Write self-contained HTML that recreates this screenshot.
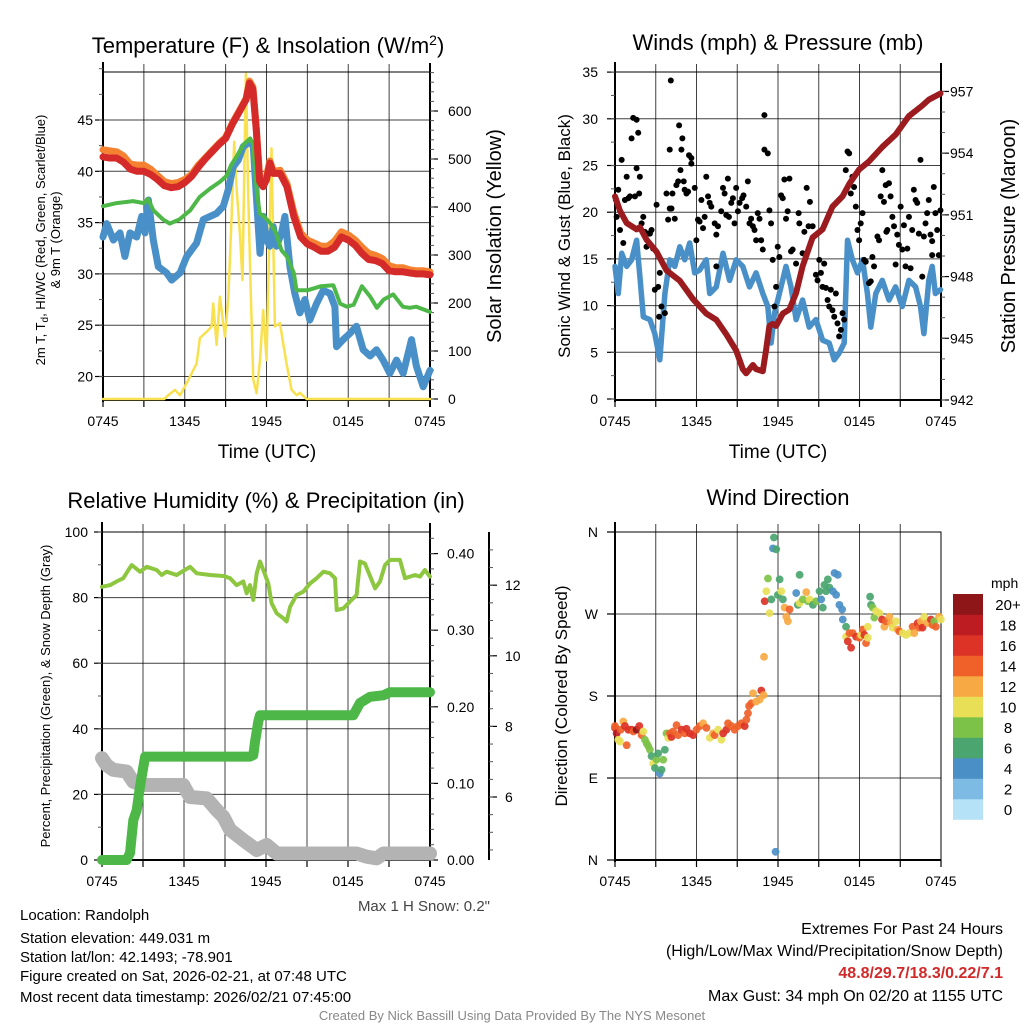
<!DOCTYPE html>
<html><head><meta charset="utf-8"><title>Mesonet Station Meteogram</title>
<style>
html,body{margin:0;padding:0;background:#fff;}
svg{display:block;font-family:"Liberation Sans",Arial,sans-serif;}
</style></head>
<body>
<svg id="c" width="1024" height="1024" viewBox="0 0 1024 1024" xmlns="http://www.w3.org/2000/svg">
<rect x="0" y="0" width="1024" height="1024" fill="#fff"/>
<text x="268" y="53" font-size="22" text-anchor="middle">Temperature (F) &amp; Insolation (W/m<tspan dy="-8" font-size="14">2</tspan><tspan dy="8">)</tspan></text>
<text x="778" y="50" font-size="22" text-anchor="middle">Winds (mph) &amp; Pressure (mb)</text>
<text x="266" y="508" font-size="22" text-anchor="middle">Relative Humidity (%) &amp; Precipitation (in)</text>
<text x="778" y="505" font-size="22" text-anchor="middle">Wind Direction</text>

<text transform="translate(45,240) rotate(-90)" font-size="13" text-anchor="middle">2m T, T<tspan dy="3" font-size="10">d</tspan><tspan dy="-3">, HI/WC (Red, Green, Scarlet/Blue)</tspan></text>
<text transform="translate(60,240) rotate(-90)" font-size="13" text-anchor="middle">&amp; 9m T (Orange)</text>
<text transform="translate(501,236) rotate(-90)" font-size="20" text-anchor="middle">Solar Insolation (Yellow)</text>
<text x="267" y="458" font-size="19" text-anchor="middle">Time (UTC)</text>
<text transform="translate(570,236) rotate(-90)" font-size="17" text-anchor="middle">Sonic Wind &amp; Gust (Blue, Black)</text>
<text transform="translate(1015,236) rotate(-90)" font-size="20" text-anchor="middle">Station Pressure (Maroon)</text>
<text x="778" y="458" font-size="19" text-anchor="middle">Time (UTC)</text>
<text transform="translate(50,696) rotate(-90)" font-size="13" text-anchor="middle">Percent, Precipitation (Green), &amp; Snow Depth (Gray)</text>
<text transform="translate(567,696) rotate(-90)" font-size="17" text-anchor="middle">Direction (Colored By Speed)</text>

<text x="490" y="911" font-size="15" fill="#444" text-anchor="end">Max 1 H Snow: 0.2"</text>
<g font-size="15" fill="#000">
<text x="20" y="920">Location: Randolph</text>
<text x="20" y="943">Station elevation: 449.031 m</text>
<text x="20" y="962">Station lat/lon: 42.1493; -78.901</text>
<text x="20" y="981">Figure created on Sat, 2026-02-21, at 07:48 UTC</text>
<text x="20" y="1002">Most recent data timestamp: 2026/02/21 07:45:00</text>
</g>
<g font-size="16" text-anchor="end">
<text x="1003" y="934">Extremes For Past 24 Hours</text>
<text x="1003" y="956">(High/Low/Max Wind/Precipitation/Snow Depth)</text>
<text x="1003" y="978" fill="#d12a2a" font-weight="bold">48.8/29.7/18.3/0.22/7.1</text>
<text x="1003" y="1001">Max Gust: 34 mph On 02/20 at 1155 UTC</text>
</g>
<text x="512" y="1020" font-size="13" fill="#888" text-anchor="middle">Created By Nick Bassill Using Data Provided By The NYS Mesonet</text>
<g id="layer"></g>
</svg>
<script>
// ---------- Panel 1: temperature & insolation ----------
const redH=[0,0.5,1,1.5,2,2.5,3,3.5,4,4.5,5,5.5,6,6.5,7,7.5,8,8.5,9,9.5,10,10.5,10.75,11,11.25,11.5,11.75,12,12.25,12.5,13,13.5,14,14.5,15,15.5,16,16.5,17,17.5,18,18.5,19,19.5,20,20.5,21,21.5,22,22.5,23,23.5,24];
const redT=[41.4,41.3,41.3,40.9,40.2,40.0,40.0,39.7,39.2,38.6,38.4,38.5,38.9,39.5,40.4,41.2,41.9,42.6,43.2,44.6,45.8,47.0,48.6,48.0,44.0,39.0,38.5,39.2,40.8,39.8,39.8,38.5,35.6,33.6,32.9,32.6,32.2,32.2,32.6,33.6,33.3,32.8,32.0,31.4,31.3,31.0,30.3,30.2,30.2,30.1,30.0,30.0,29.9];
const orangeT=[42.1,42.0,41.9,41.5,40.7,40.6,40.6,40.2,39.6,39.0,38.8,38.9,39.2,39.7,40.6,41.3,42.0,42.7,43.3,44.7,45.9,47.1,48.8,48.2,44.2,39.3,38.8,39.5,41.0,40.0,40.1,38.8,36.0,34.0,33.3,33.0,32.7,32.7,33.2,34.1,33.8,33.3,32.6,32.0,31.8,31.5,30.8,30.6,30.6,30.4,30.3,30.3,30.2];
const greenH=[0,1,2.2,3,3.3,3.7,4.4,4.9,5.6,6.4,7.1,7.85,8.6,9.1,9.4,9.8,10.3,10.8,11.0,11.3,11.5,11.8,12.3,12.7,13.1,13.5,14.0,14.2,15.0,16.0,16.9,17.4,17.9,18.4,19.0,19.6,20.1,20.6,21.3,22.0,22.5,23.0,24];
const greenT=[36.6,36.9,37.1,36.9,37.3,36.2,35.3,34.9,35.3,36.2,37.5,38.3,39.0,39.6,40.6,41.4,42.6,43.2,42.7,37.9,35.9,35.6,34.9,34.0,32.3,31.7,30.1,28.4,28.4,28.8,28.9,27.1,26.8,27.0,28.8,27.8,26.7,27.5,28.0,26.8,26.7,26.8,26.3];
const blueH=[0,.27,.76,1.25,1.61,1.98,2.47,2.84,3.08,3.33,3.69,4.06,4.67,5.04,5.65,6.14,6.87,7.36,7.85,8.34,8.83,9.19,9.56,9.93,10.29,10.78,11.03,11.27,11.52,11.76,12.0,12.25,12.49,12.74,13.1,13.35,13.72,14.08,14.45,14.82,15.18,15.67,16.16,16.65,17.02,17.14,17.63,18.12,18.6,19.1,19.6,20.07,20.56,21.05,21.54,22.03,22.64,23.0,23.5,24];
const blueT=[33.6,34.9,33.3,34.0,31.7,34.0,33.6,35.6,34.0,37.2,33.3,30.7,30.1,29.4,30.1,31.7,33.0,35.3,35.6,35.9,36.6,38.2,40.45,41.1,42.4,42.9,42.4,37.2,32.0,35.6,33.3,32.7,34.6,32.7,34.0,35.6,30.7,28.1,26.2,27.5,25.5,27.1,28.4,28.1,26.8,22.9,23.6,24.2,24.9,22.6,22.0,22.6,21.6,20.3,21.6,20.3,23.6,21.0,19.0,20.6];
const solarH=[0,4.5,4.67,5.28,5.65,6.14,6.87,7.11,7.6,7.97,8.09,8.34,8.58,8.95,9.19,9.43,9.63,9.8,10.05,10.24,10.49,10.66,10.83,11.03,11.27,11.52,11.76,12.0,12.37,12.62,12.98,13.47,13.84,14.21,14.45,14.94,24];
const solarW=[0,0,5,19,8,33,74,127,140,151,199,113,213,130,206,373,536,442,345,248,678,428,234,40,12,81,185,81,522,151,158,74,19,8,13,0,0];
const tempTicks=[20,25,30,35,40,45];
const solarTicks=[0,100,200,300,400,500,600];
// ---------- Panel 2: wind & pressure ----------
const presH=[0,.37,.86,1.59,1.83,2.32,3.06,3.79,4.77,5.75,6.72,7.46,8.19,8.92,9.41,9.66,10.15,10.39,10.88,11.12,11.37,11.61,11.86,12.35,12.84,13.33,13.81,14.55,15.28,16.01,16.75,17.24,17.97,18.7,19.68,20.66,21.64,22.6,23.1,23.96];
const presV=[951.9,951.2,950.6,950.3,950.4,949.8,949.2,948.3,947.8,946.9,946.2,945.9,945.2,944.4,943.5,943.3,943.7,943.5,943.4,944.4,945.6,945.7,945.6,946.2,946.4,947.2,948.5,949.9,950.3,951.4,951.9,952.5,953.2,953.6,954.3,954.9,955.8,956.3,956.6,956.9];
const windH=[0,.24,.49,.86,1.22,1.59,1.83,2.08,2.57,2.93,3.3,3.67,4.03,4.4,4.77,5.13,5.5,5.87,6.23,6.72,6.97,7.46,7.95,8.44,8.92,9.41,9.9,10.39,10.88,11.25,11.49,11.74,12.1,12.59,12.96,13.33,13.81,14.3,14.79,15.28,15.77,16.14,16.5,16.87,17.12,17.48,17.85,18.22,18.58,18.83,19.2,19.68,20.17,20.66,21.15,21.64,22.13,22.49,22.74,23.1,23.35,23.59,23.96];
const windV=[14.2,11.3,15.6,14.2,14.9,17.0,13.1,8.8,8.5,7.0,4.2,11.3,14.9,14.2,16.3,14.9,16.7,13.5,13.8,14.9,11.3,12.0,15.6,12.7,14.9,14.2,12.0,13.5,11.3,9.9,6.0,9.2,11.3,14.2,12.0,8.5,10.6,7.7,8.5,6.3,6.0,4.2,4.9,6.0,17.0,14.9,13.5,14.9,11.3,7.7,11.3,12.7,10.6,12.0,9.9,12.7,12.0,9.9,7.0,12.7,14.2,11.3,11.7];
const gustH=[.07,.12,.24,.37,.49,.61,.73,.86,.98,1.1,1.22,1.34,1.47,1.59,1.71,1.59,1.83,1.78,1.96,2.08,2.2,2.32,2.45,2.57,2.69,2.81,2.93,3.06,3.18,3.25,3.3,3.42,3.67,3.79,3.91,4.03,4.03,4.11,4.16,4.23,4.4,4.52,4.65,4.72,4.82,4.89,4.96,5.06,5.13,5.26,5.38,5.45,5.62,5.62,5.87,5.99,6.11,6.23,6.36,6.48,6.72,6.6,6.85,6.97,7.09,7.34,7.46,7.46,7.58,7.82,7.95,8.07,8.19,8.31,8.39,8.56,8.68,8.8,8.92,9.05,9.17,9.36,9.46,9.66,9.78,9.9,10.02,10.15,10.27,10.39,10.51,10.64,10.76,10.88,11.0,11.0,11.25,11.37,11.49,11.61,11.74,11.86,11.98,12.1,12.23,12.35,12.47,12.59,12.71,12.84,12.96,13.08,13.33,13.52,13.57,13.81,13.94,14.11,14.25,14.35,14.55,14.79,14.91,15.04,15.16,15.28,15.4,15.53,15.65,15.77,15.89,16.01,16.14,16.26,16.38,16.5,16.63,16.75,16.87,16.99,17.12,17.24,17.36,17.48,17.6,17.73,17.85,17.97,18.09,18.22,18.34,18.46,18.7,18.83,18.95,19.07,19.32,19.44,19.68,19.56,19.8,19.93,19.98,20.05,20.17,20.29,20.42,20.54,20.66,20.78,20.9,21.03,21.15,21.27,21.39,21.52,21.64,21.76,21.88,22.0,22.13,22.25,22.37,22.49,22.62,22.74,22.86,22.98,23.1,23.23,23.35,23.35,23.47,23.59,23.72,23.84,23.96];
const gustV=[21.3,19.5,22.4,18.1,25.6,16.7,21.3,23.8,21.5,21.7,27.9,30.1,21.7,29.9,28.5,24.7,23.8,22.0,18.8,19.5,17.9,16.3,17.7,17.7,18.1,16.1,11.7,20.8,12.0,8.8,13.5,9.9,9.2,22.0,19.2,26.7,20.4,34.1,20.4,22.0,19.3,22.9,23.3,29.3,24.5,26.7,27.9,23.3,22.4,22.0,22.2,26.1,25.8,25.2,22.6,17.0,19.2,19.0,21.3,18.3,23.8,19.5,21.7,21.0,20.6,18.8,17.6,14.2,18.5,20.1,22.6,22.0,19.7,23.6,19.5,21.0,21.5,18.8,22.6,20.1,21.0,21.5,21.8,20.6,23.3,18.8,19.3,18.5,18.1,17.0,19.9,19.3,17.0,16.0,30.4,26.7,26.3,20.2,18.8,14.9,9.9,12.0,16.3,15.2,21.8,21.5,23.5,19.3,20.1,23.6,15.8,16.0,14.5,19.9,18.8,15.6,17.9,22.6,18.5,21.1,18.5,13.3,12.7,14.9,13.5,12.0,14.5,11.9,10.6,9.9,11.7,9.5,8.8,11.3,8.1,6.7,7.4,9.2,8.5,24.5,26.5,26.3,22.0,23.8,22.7,20.6,18.1,17.0,18.8,19.9,14.9,14.7,12.4,12.6,15.2,14.2,17.4,17.0,24.5,21.7,21.1,22.9,17.9,18.1,23.1,21.7,19.5,18.5,14.4,17.6,16.5,20.6,16.0,18.6,14.2,16.1,19.5,14.0,18.1,22.4,21.3,21.0,17.7,25.6,13.1,17.4,18.8,19.9,21.3,17.6,16.9,15.4,22.7,19.9,18.1,15.4,20.2];
const windTicks=[0,5,10,15,20,25,30,35];
const presTicks=[942,945,948,951,954,957];
// ---------- Panel 3: humidity, precipitation, snow ----------
const rhH=[0,.59,1.07,1.56,1.93,2.17,2.78,3.27,4.0,4.37,4.73,5.46,6.44,6.93,7.9,8.88,9.37,9.85,10.34,10.59,10.83,11.07,11.32,11.56,11.8,12.17,12.41,12.78,13.27,13.51,13.76,14.24,14.73,15.22,15.71,16.2,16.68,17.05,17.17,17.66,18.15,18.63,18.88,19.24,19.73,19.98,20.34,20.71,21.07,21.8,22.17,22.54,22.9,23.27,23.63,24];
const rhV=[83.3,83.8,84.9,85.9,88.4,89.9,87.9,89.4,88.4,86.9,87.9,86.9,89.4,87.4,86.9,86.6,85.9,83.8,84.9,81.3,83.8,79.3,87.4,91.0,88.4,84.3,78.3,75.2,73.7,72.7,77.2,80.8,81.8,84.3,85.9,87.9,87.4,85.9,76.2,76.7,78.8,80.8,91.0,90.4,85.4,82.8,84.9,89.9,91.5,91.5,85.9,86.4,86.9,86.4,88.4,86.4];
const precipH=[0,1.8,2.05,2.29,2.54,2.78,3.15,10.83,11.07,11.2,11.44,11.56,18.39,18.88,19.61,20.59,21.07,24];
const precipV=[0,0,0.009,0.052,0.065,0.096,0.135,0.135,0.137,0.155,0.181,0.189,0.189,0.205,0.213,0.215,0.219,0.219];
const snowH=[0,.34,.83,1.8,2.29,3.02,5.95,6.44,7.66,8.39,8.88,9.37,10.34,11.32,12.05,12.78,18.63,19.37,20.1,20.59,24];
const snowV=[7.1,6.9,6.77,6.72,6.43,6.34,6.34,6.0,5.96,5.63,5.44,5.07,4.78,4.5,4.64,4.4,4.4,4.31,4.26,4.4,4.4];
const rhTicks=[0,20,40,60,80,100];
const precipTicks=[0,0.1,0.2,0.3,0.4];
const snowTicks=[6,8,10,12];
// ---------- Panel 4: wind direction ----------
const dirH=[0,0,.12,.24,.37,.42,.61,.73,.86,.98,1.22,1.35,1.59,1.79,1.96,2.08,2.2,2.33,2.45,2.57,2.69,2.82,2.94,3.06,3.18,3.3,3.43,3.55,3.67,3.79,3.92,4.04,4.16,4.28,4.53,4.65,4.9,5.14,5.26,5.51,5.75,6.0,6.24,6.49,6.73,6.98,7.22,7.34,7.59,7.83,7.96,8.2,8.32,8.57,8.81,9.06,9.3,9.55,9.67,9.79,9.87,10.04,10.16,10.4,10.65,10.77,10.94,10.97,11.02,11.14,11.26,11.38,11.51,11.63,11.7,11.87,11.99,12.12,12.24,12.36,12.48,12.61,12.73,12.85,13.34,13.46,13.59,13.59,13.83,14.08,14.2,14.32,14.57,14.81,15.06,15.18,15.3,15.42,15.54,15.67,15.79,16.04,16.16,16.4,16.28,16.52,16.72,16.77,17.01,17.01,17.14,17.26,17.38,17.5,17.75,17.99,18.12,18.24,18.36,18.48,18.61,18.61,18.78,18.85,18.97,19.09,19.22,19.46,19.66,19.83,19.95,20.2,20.32,20.44,20.69,20.81,20.93,21.18,21.42,21.67,21.91,22.03,22.28,22.4,22.52,22.64,22.77,23.01,23.26,23.38,23.5,23.62,23.87,23.99,11.82];
const dirDeg=[145,147,139,132,130,143,152,147,126,143,143,141,143,147,137,141,132,128,125,121,114,106,101,110,117,95,99,110,121,139,134,139,135,141,148,137,143,139,144,139,137,143,147,150,145,134,139,137,143,132,139,143,150,147,143,147,150,147,154,161,169,172,183,174,176,186,181,223,284,295,309,271,286,342,354,341,291,308,295,286,277,267,262,275,293,280,282,313,286,294,284,286,280,284,295,286,277,302,295,308,299,295,315,313,291,280,275,264,256,245,240,249,233,249,245,244,247,253,247,238,244,256,289,280,277,266,273,271,264,256,262,267,260,255,262,253,251,249,247,249,256,249,260,255,262,255,267,260,264,258,262,256,267,264,9];
const dirSpeed=[16,14,18,10,10,14,12,16,14,16,16,14,20,16,14,10,8,8,8,8,6,10,6,8,6,4,6,8,6,8,10,14,16,14,14,14,16,14,16,16,16,14,14,12,14,10,12,14,10,10,16,16,14,14,14,14,14,16,14,14,14,14,12,12,12,16,12,12,16,10,8,10,6,4,6,6,6,6,10,6,12,12,12,14,4,6,10,6,8,12,8,10,6,8,6,4,6,6,6,6,6,4,4,4,4,4,4,4,6,10,16,14,16,14,16,14,10,14,16,14,10,10,6,6,8,8,10,10,16,12,14,12,12,10,10,12,14,10,10,10,14,12,16,14,12,16,10,12,16,14,8,14,12,10,4];
const dirTicks=[0,90,180,270,360];
const dirLabels=["N","E","S","W","N"];
const speedBins=["0","2","4","6","8","10","12","14","16","18","20+"];
const speedColors=["#b5e2f7","#7ebbe4","#4a8fc6","#4aa56f","#7dc248","#e8df57","#f7a943","#ef6129","#dc3326","#bd1c23","#8e1518"];
const timeTickLabels=["0745","1345","1945","0145","0745"];

const NS="http://www.w3.org/2000/svg";
const layer=document.getElementById('layer');
function mk(tag,attrs,parent){const e=document.createElementNS(NS,tag);for(const k in attrs)e.setAttribute(k,attrs[k]);(parent||layer).appendChild(e);return e;}
function pathD(xs,ys,xf,yf){let d='';for(let i=0;i<xs.length;i++){d+=(i?'L':'M')+xf(xs[i]).toFixed(1)+','+yf(ys[i]).toFixed(1);}return d;}

function frame(P,name,hTicks,yTickVals,yf,gridName){
  const g=mk('g',{});
  
  
  yTickVals.forEach(v=>{const y=yf(v);if(y>P.y0+1&&y<P.y1-1){const l=mk('line',{x1:P.x0,x2:P.x1,y1:y,y2:y,stroke:'#000','stroke-opacity':0.75,'stroke-width':1},g);
    
    }});
  for(let h=3;h<24;h+=3){const x=P.xf(h);const l=mk('line',{x1:x,x2:x,y1:P.y0-8,y2:P.y1,stroke:'#000','stroke-opacity':0.75,'stroke-width':1},g);
    
    }
  const fr=mk('rect',{x:P.x0,y:P.y0,width:P.x1-P.x0,height:P.y1-P.y0,fill:'none',stroke:'#000','stroke-width':1},g);
  
  
  const ax=mk('line',{x1:P.x0,x2:P.x0,y1:P.y0-10,y2:P.y1+2,stroke:'#000','stroke-width':2},g);
  
  
  const bx=mk('line',{x1:P.x0,x2:P.x1,y1:P.y1,y2:P.y1,stroke:'#000','stroke-width':2},g);
  
  
  for(let h=0;h<=24;h+=3){const x=P.xf(h);mk('line',{x1:x,x2:x,y1:P.y1,y2:P.y1+7,stroke:'#000','stroke-width':1.2},g);}
  timeTickLabels.forEach((s,i)=>{const t=mk('text',{x:P.xf(i*6),y:P.y1+26,'font-size':14,'text-anchor':'middle'},g);t.textContent=s;
    
    });
  return g;
}
function leftTicks(P,vals,labels,yf,minorStep,lo,hi,labX){
  vals.forEach((v,i)=>{const y=yf(v);mk('line',{x1:P.x0-8,x2:P.x0,y1:y,y2:y,stroke:'#000','stroke-width':1.2});
    const t=mk('text',{x:labX,y:y+5,'font-size':14,'text-anchor':'end'});t.textContent=labels[i];
    
    });
  if(minorStep){for(let v=lo;v<=hi+1e-9;v+=minorStep){const y=yf(v);if(y>=P.y0-8&&y<=P.y1)mk('line',{x1:P.x0-4,x2:P.x0,y1:y,y2:y,stroke:'#555','stroke-width':1});}}
}
function rightAxis(ax,y0,y1,vals,labels,yf,minorStep,lo,hi,labX,dir,name){
  const l=mk('line',{x1:ax,x2:ax,y1:y0,y2:y1,stroke:'#000','stroke-width':2});
  
  
  vals.forEach((v,i)=>{const y=yf(v);mk('line',{x1:ax,x2:ax+8*dir,y1:y,y2:y,stroke:'#000','stroke-width':1.2});
    const t=mk('text',{x:labX,y:y+5,'font-size':14});t.textContent=labels[i];
    
    });
  for(let v=lo;v<=hi+1e-9;v+=minorStep){const y=yf(v);if(y>=y0&&y<=y1)mk('line',{x1:ax,x2:ax+4*dir,y1:y,y2:y,stroke:'#555','stroke-width':1});}
}
function line(xs,ys,P,yf,color,w,name){const p=mk('path',{d:pathD(xs,ys,P.xf,yf),fill:'none',stroke:color,'stroke-width':w,'stroke-linejoin':'round','stroke-linecap':'round'});
  
  return p;}

// Panel 1
const P1={x0:103,x1:430,y0:72,y1:400};P1.xf=h=>P1.x0+h*(P1.x1-P1.x0)/24;
const yT=v=>120+(45-v)*10.26, yS=w=>399-w*0.48;
frame(P1,'temperature',null,tempTicks,yT,'temperature');
leftTicks(P1,tempTicks,tempTicks.map(String),yT,2.5,17.5,50,93);
rightAxis(P1.x1,63,407,solarTicks,solarTicks.map(String),yS,20,0,680,448,1,'solar-axis');
line(solarH,solarW,P1,yS,'#f9e04f',2.5,'solar-insolation-line');
line(blueH,blueT,P1,yT,'#4a90c8',7,'dewpoint-line');
line(greenH,greenT,P1,yT,'#4db848',4,'heat-index-line');
line(redH,orangeT,P1,yT,'#f58231',7,'9m-temperature-line');
line(redH,redT,P1,yT,'#d42a2a',7,'2m-temperature-line');

// Panel 2
const P2={x0:615,x1:941,y0:72,y1:400};P2.xf=h=>P2.x0+h*(P2.x1-P2.x0)/24;
const yW=v=>399-v*9.34, yP=p=>400-(p-942)*20.57;
frame(P2,'wind',null,windTicks,yW,'wind');
leftTicks(P2,windTicks,windTicks.map(String),yW,2.5,0,35,598);
rightAxis(P2.x1,63,407,presTicks,presTicks.map(String),yP,1,942,957,950,1,'pressure-axis');
line(windH,windV,P2,yW,'#4a90c8',5.5,'sonic-wind-line');
gustH.forEach((h,i)=>{const c=mk('circle',{cx:P2.xf(h),cy:yW(gustV[i]),r:3,fill:'#000'});
  
  });
line(presH,presV,P2,yP,'#9b1b1e',6,'pressure-line');

// Panel 3
const P3={x0:102,x1:430,y0:532,y1:860};P3.xf=h=>P3.x0+h*(P3.x1-P3.x0)/24;
const yR=v=>860-v*3.28, yPr=v=>860-v*766, ySn=v=>797-(v-6)*35.3;
frame(P3,'humidity',null,rhTicks,yR,'humidity');
leftTicks(P3,rhTicks,rhTicks.map(String),yR,10,0,100,88);
rightAxis(P3.x1,523,867,precipTicks,precipTicks.map(v=>v.toFixed(2)),yPr,0.02,0,0.42,447,1,'precipitation-axis');
rightAxis(489,532,860,snowTicks,snowTicks.map(String),ySn,0.5,4.5,13,505,1,'snow-depth-axis');
line(snowH,snowV,P3,ySn,'#b3b3b3',14,'snow-depth-line');
line(precipH,precipV,P3,yPr,'#4db848',10,'precipitation-line');
line(rhH,rhV,P3,yR,'#8dc63f',4,'relative-humidity-line');

// Panel 4
const P4={x0:615,x1:941,y0:532,y1:860};P4.xf=h=>P4.x0+h*(P4.x1-P4.x0)/24;
const yD=d=>860-d*(328/360);
frame(P4,'direction',null,dirTicks,yD,'direction');
leftTicks(P4,dirTicks,dirLabels,yD,0,0,0,598);
dirH.forEach((h,i)=>{const b=Math.min(10,Math.floor(dirSpeed[i]/2));
  const c=mk('circle',{cx:P4.xf(h),cy:yD(dirDeg[i]),r:3.9,fill:speedColors[b],'fill-opacity':0.92});
  
  });
const cb=mk('g',{});


const mphT=mk('text',{x:991,y:588,'font-size':14},cb);mphT.textContent='mph';


speedBins.forEach((s,i)=>{const k=speedBins.length-1-i;const y=594+k*20.5;
  const r=mk('rect',{x:953,y:y,width:30,height:20.8,fill:speedColors[i]},cb);
  
  
  const t=mk('text',{x:1008,y:y+16,'font-size':15,'text-anchor':'middle'},cb);t.textContent=s;
  
  });
</script>
</body></html>
